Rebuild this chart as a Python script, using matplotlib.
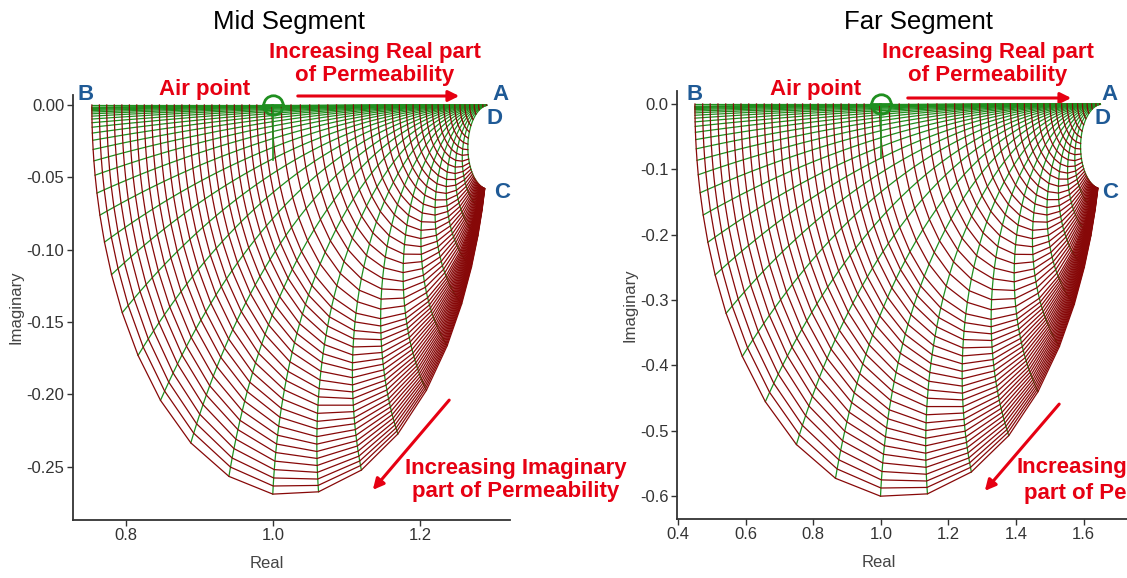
import numpy as np
import matplotlib
matplotlib.use('Agg')
import matplotlib.pyplot as plt

plt.rcParams['font.family'] = ['Liberation Sans', 'DejaVu Sans']

# where the dark red (constant real part) lines leave the top edge, -1 = B, +1 = A
real_lines = [-1.000, -0.962, -0.925, -0.887, -0.849, -0.811, -0.774, -0.736, -0.698, -0.660,
              -0.623, -0.585, -0.547, -0.509, -0.472, -0.434, -0.396, -0.358, -0.321, -0.283,
              -0.245, -0.207, -0.170, -0.132, -0.094, -0.046, 0.002, 0.049, 0.096, 0.142,
              0.187, 0.231, 0.274, 0.316, 0.357, 0.397, 0.436, 0.474, 0.511, 0.547,
              0.582, 0.616, 0.649, 0.681, 0.712, 0.742, 0.771, 0.799, 0.826, 0.852,
              0.877, 0.901, 0.924, 0.946, 0.967, 0.985]
# imaginary part steps of the green lines (0 = top edge B-A)
imag_lines = [0.0, 0.0028, 0.0036, 0.0045, 0.0057, 0.0071, 0.0090, 0.0113, 0.0143, 0.0180,
              0.0227, 0.0285, 0.0360, 0.0453, 0.0571, 0.0719, 0.0906, 0.1142, 0.1439, 0.1813,
              0.2284, 0.2878, 0.3626, 0.4569, 0.5757, 0.7254, 0.914, 1.152, 1.451, 1.828,
              2.304, 2.903, 3.657, 4.608, 5.806, 7.316, 9.219]

titles = ['Mid Segment', 'Far Segment']
point_B = [0.754, 0.450]
point_A = [1.294, 1.656]
air_x = [1.0, 1.0]
air_tick_end = [-0.038, -0.083]
x_ticks = [[0.8, 1.0, 1.2], [0.4, 0.6, 0.8, 1.0, 1.2, 1.4, 1.6]]
y_ticks = [[0.0, -0.05, -0.10, -0.15, -0.20, -0.25], [0.0, -0.1, -0.2, -0.3, -0.4, -0.5, -0.6]]
y_fmt = ['%.2f', '%.1f']
x_lims = [(0.728, 1.322), (0.397, 1.728)]
y_lims = [(-0.2868, 0.0069), (-0.6355, 0.0199)]

W, H = 1127, 578
dark_red = '#870808'
green = '#1f8f1f'
red = '#e60012'
blue = '#1f5a96'


def fx(px):
    return px / W


def fy(py):
    return 1 - py / H


def make_mesh(B, A):
    c, r = (A + B) / 2, (A - B) / 2
    u = np.array(real_lines)
    a = (1 + u) / (1 - u)
    mu = a[:, None] - 1j * np.array(imag_lines)[None, :]
    z = c + r * (mu - 1) / (mu + 1)
    return z.real, z.imag


def arrow(x0, y0, x1, y1):
    fig.axes[0].annotate('', xy=(fx(x1), fy(y1)), xytext=(fx(x0), fy(y0)),
                         xycoords='figure fraction', textcoords='figure fraction',
                         arrowprops=dict(arrowstyle='-|>', color=red, lw=2.2, mutation_scale=16))


fig = plt.figure(figsize=(W / 100, H / 100), dpi=100)
boxes = [[fx(72.7), fy(520), fx(510 - 72.7), 425 / H],
         [fx(677), fy(519), fx(W - 677), 428 / H]]
real_label_pos = [0.444, 0.449]

for k in range(2):
    ax = fig.add_axes(boxes[k])
    xs, ys = make_mesh(point_B[k], point_A[k])
    for j in range(xs.shape[1]):
        ax.plot(xs[:, j], ys[:, j], color=green, lw=0.9, zorder=2)
    for i in range(xs.shape[0]):
        ax.plot(xs[i, :], ys[i, :], color=dark_red, lw=0.9, zorder=3)
    ax.plot([air_x[k], air_x[k]], [0.0, air_tick_end[k]], color=green, lw=1.2, zorder=4)
    ax.plot([air_x[k]], [0.0], marker='o', ms=14, mfc='none', mec=green, mew=2,
            clip_on=False, zorder=5)
    half = 0.013 * (point_A[k] - point_B[k]) / 0.54
    ax.plot([air_x[k] - half, air_x[k] + half], [0.0, 0.0],
            color=green, lw=2, clip_on=False, zorder=5)

    ax.set_xlim(*x_lims[k])
    ax.set_ylim(*y_lims[k])
    ax.set_xticks(x_ticks[k])
    ax.set_xticklabels(['%.1f' % v for v in x_ticks[k]])
    ax.set_yticks(y_ticks[k])
    ax.set_yticklabels([y_fmt[k] % v for v in y_ticks[k]])
    for s in ['top', 'right']:
        ax.spines[s].set_visible(False)
    for s in ['left', 'bottom']:
        ax.spines[s].set_color('#333333')
        ax.spines[s].set_linewidth(1.3)
    ax.tick_params(direction='out', length=4, width=1, colors='#333333', labelsize=12, pad=2)
    ax.set_xlabel('Real', fontsize=12, color='#444444')
    ax.xaxis.set_label_coords(real_label_pos[k], -0.085)
    ax.set_ylabel('Imaginary', fontsize=12, color='#444444', labelpad=2)
    ax.patch.set_alpha(0)

# titles
fig.text(fx(289), fy(22), titles[0], fontsize=18.5, ha='center', va='center')
fig.text(fx(918), fy(22), titles[1], fontsize=18.5, ha='center', va='center')

# annotations
labels = [{'A': (501, 95), 'B': (86, 94), 'D': (495, 118), 'C': (502, 193)},
          {'A': (1110, 95), 'B': (695, 94), 'D': (1103, 118), 'C': (1110, 192)}]
real_text_x = [375, 988]
air_text_x = [205, 816]
real_arrows = [(295, 462, 96), (905, 1074, 98)]
for k in range(2):
    fig.text(fx(real_text_x[k]), fy(64), 'Increasing Real part\nof Permeability', color=red,
             fontsize=16, fontweight='bold', ha='center', va='center', linespacing=1.12)
    fig.text(fx(air_text_x[k]), fy(90), 'Air point', color=red, fontsize=16, fontweight='bold',
             ha='center', va='center')
    x0, x1, yy = real_arrows[k]
    arrow(x0, yy, x1, yy)
    for name, (px, py) in labels[k].items():
        fig.text(fx(px), fy(py), name, color=blue, fontsize=16, fontweight='bold',
                 ha='center', va='center')

fig.text(fx(516), fy(480), 'Increasing Imaginary\npart of Permeability', color=red,
         fontsize=16, fontweight='bold', ha='center', va='center', linespacing=1.1)
arrow(451, 398, 371, 492)
# the right panel only shows the start of the same caption
fig.text(fx(1016), fy(467), 'Increasing', color=red, fontsize=16, fontweight='bold',
         ha='left', va='center')
fig.text(fx(1024), fy(493), 'part of Pe', color=red, fontsize=16, fontweight='bold',
         ha='left', va='center')
arrow(1061, 402, 983, 493)

fig.savefig('out.png', dpi=100)
